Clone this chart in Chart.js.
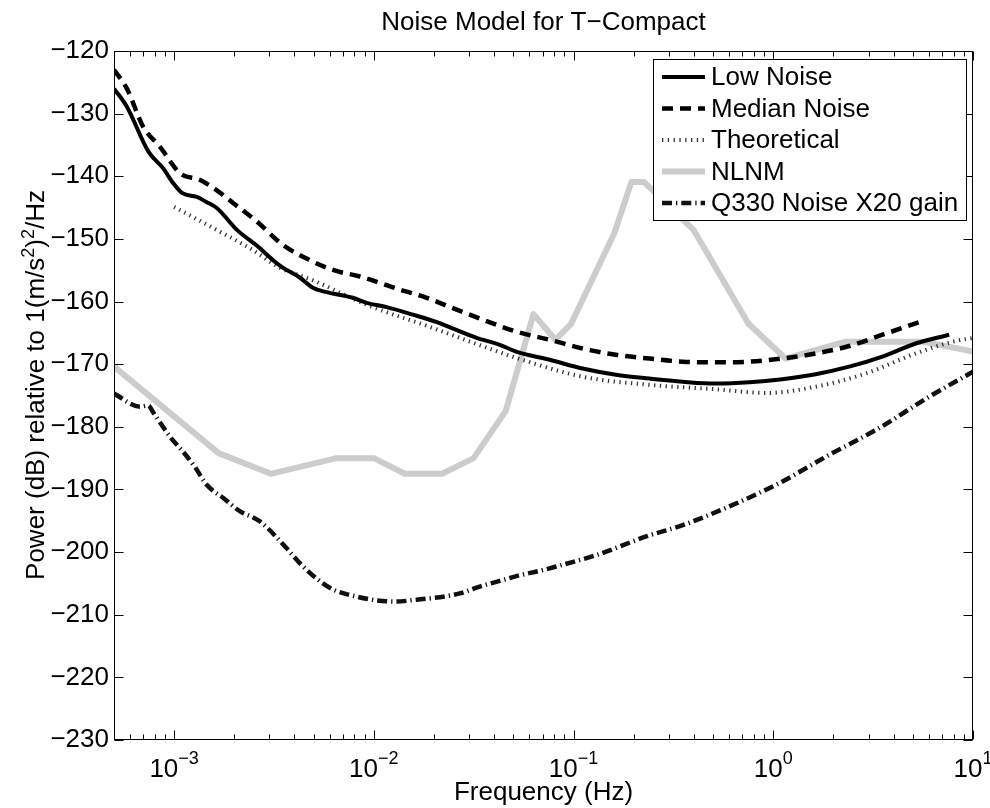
<!DOCTYPE html>
<html lang="en">
<head>
    <meta charset="UTF-8">
    <title>Noise Model for T-Compact</title>
    <style>
        body {
            margin: 0;
            background-color: #fff;
        }
        .chart-container {
            width: 990px;
            height: 808px;
        }
    </style>
</head>
<body>
    <div class="chart-container">
        <canvas id="noise-chart" width="990" height="808"></canvas>
    </div>

    <script src="https://cdn.jsdelivr.net/npm/chart.js"></script>

    <script>
        const FONT = '"Liberation Sans", Arial, Helvetica, sans-serif';

        // frequency in Hz, power in dB
        const lowFreq = [5.0e-4, 5.8e-4, 7.45e-4, 8.8e-4, 9.9e-4, 1.1e-3, 1.3e-3, 1.45e-3, 1.64e-3, 2.07e-3,
            2.6e-3, 3.13e-3, 3.47e-3, 4.27e-3, 4.95e-3, 5.8e-3, 7.85e-3, 9.2e-3, 1.16e-2, 1.57e-2,
            2.07e-2, 2.48e-2, 3.27e-2, 4.27e-2, 5.16e-2, 7.6e-2, 0.111, 0.163, 0.24, 0.352,
            0.516, 0.76, 1.11, 1.63, 2.4, 3.52, 5.16, 7.6];
        const lowPower = [-126.0, -128.9, -136.1, -138.7, -141.1, -142.7, -143.3, -144.1, -145.1, -148.6,
            -151.1, -153.4, -154.5, -156.2, -157.8, -158.5, -159.4, -160.2, -160.9, -162.1,
            -163.3, -164.3, -165.8, -166.9, -168.0, -169.3, -170.7, -171.7, -172.3, -172.8,
            -173.1, -172.9, -172.4, -171.6, -170.4, -168.8, -166.7, -165.3];

        const medianFreq = [5.0e-4, 5.8e-4, 7.0e-4, 8.5e-4, 1.07e-3, 1.35e-3, 1.63e-3, 1.98e-3, 2.59e-3, 3.52e-3,
            4.79e-3, 6.3e-3, 8.5e-3, 1.32e-2, 1.84e-2, 2.6e-2, 3.52e-2, 5.16e-2, 7.6e-2, 0.111,
            0.163, 0.24, 0.352, 0.516, 0.76, 1.11, 1.63, 2.4, 3.52, 5.47];
        const medianPower = [-123.0, -126.0, -132.1, -135.3, -139.5, -140.6, -142.2, -144.3, -147.2, -151.0,
            -153.4, -155.0, -156.0, -158.0, -159.4, -161.3, -162.9, -164.8, -166.1, -167.5,
            -168.5, -169.1, -169.6, -169.7, -169.6, -169.1, -168.3, -167.1, -165.3, -163.2];

        const theoFreq = [1.0e-3, 1.64e-3, 2.4e-3, 3.39e-3, 4.95e-3, 9.2e-3, 1.97e-2, 2.4e-2, 4.27e-2, 5.16e-2,
            0.111, 0.24, 0.516, 0.92, 1.63, 2.9, 5.16, 7.94, 10];
        const theoPower = [-144.9, -148.6, -151.5, -154.6, -156.6, -160.5, -164.2, -165.2, -168.1, -169.0,
            -172.0, -173.3, -174.0, -174.6, -173.6, -171.5, -168.3, -166.4, -165.8];

        const nlnmFreq = [5.0e-4, 1.67e-3, 3.05e-3, 6.5e-3, 1.0e-2, 1.43e-2, 2.2e-2, 3.16e-2, 4.57e-2, 6.3e-2,
            8.1e-2, 9.7e-2, 0.16, 0.195, 0.225, 0.4, 0.75, 1.15, 2.3, 5.6, 10];
        const nlnmPower = [-170.4, -184.2, -187.5, -185.0, -185.0, -187.5, -187.5, -185.0, -177.5, -162.0,
            -166.1, -163.6, -149.1, -140.9, -140.9, -148.6, -163.5, -169.1, -166.4, -166.4, -168.0];

        const q330Freq = [5.0e-4, 6.76e-4, 7.4e-4, 7.9e-4, 9.55e-4, 1.11e-3, 1.27e-3, 1.46e-3, 1.77e-3, 2.14e-3,
            2.69e-3, 3.66e-3, 4.27e-3, 5.16e-3, 6.27e-3, 8.2e-3, 1.03e-2, 1.3e-2, 1.63e-2, 2.14e-2,
            2.69e-2, 3.39e-2, 4.27e-2, 5.37e-2, 6.76e-2, 8.2e-2, 0.135, 0.231, 0.352, 0.603,
            1.07, 1.9, 3.39, 6.03, 10];
        const q330Power = [-174.7, -176.8, -176.6, -177.8, -181.6, -184.0, -186.4, -189.3, -191.4, -193.5,
            -195.1, -199.4, -201.8, -204.2, -206.0, -207.1, -207.7, -207.9, -207.6, -207.2,
            -206.6, -205.5, -204.6, -203.7, -203.0, -202.3, -200.3, -197.5, -195.7, -192.7,
            -189.0, -184.5, -180.2, -175.2, -171.2];

        const yTicks = [-120, -130, -140, -150, -160, -170, -180, -190, -200, -210, -220, -230];
        const xTickExponents = [-3, -2, -1, 0, 1];

        function toPoints(xs, ys) {
            return xs.map((x, i) => ({ x: x, y: ys[i] }));
        }

        function minusSign(n) {
            return n < 0 ? '\u2212' + Math.abs(n) : String(n);
        }

        // axes box, inward ticks, tick labels, titles and legend drawn MATLAB-style
        const matlabAxes = {
            id: 'matlabAxes',
            afterDatasetsDraw(chart) {
                const { ctx, chartArea: a, scales: { x, y } } = chart;
                ctx.save();
                ctx.strokeStyle = '#000';
                ctx.lineWidth = 1;
                ctx.setLineDash([]);

                const L = Math.round(a.left) + 0.5, R = Math.round(a.right) - 0.5;
                const T = Math.round(a.top) + 0.5, B = Math.round(a.bottom) - 0.5;
                ctx.strokeRect(L, T, R - L, B - T);

                ctx.beginPath();
                yTicks.forEach(v => {
                    const py = Math.round(y.getPixelForValue(v)) + 0.5;
                    ctx.moveTo(L, py); ctx.lineTo(L + 9, py);
                    ctx.moveTo(R, py); ctx.lineTo(R - 9, py);
                });
                for (let e = -4; e <= 1; e++) {
                    for (let k = 1; k <= 9; k++) {
                        const f = k * Math.pow(10, e);
                        if (f < x.min * 0.999 || f > x.max * 1.001) continue;
                        const px = Math.round(x.getPixelForValue(f)) + 0.5;
                        const len = k === 1 ? 9 : 5;
                        ctx.moveTo(px, B); ctx.lineTo(px, B - len);
                        ctx.moveTo(px, T); ctx.lineTo(px, T + len);
                    }
                }
                ctx.stroke();

                ctx.fillStyle = '#000';
                ctx.textBaseline = 'alphabetic';
                ctx.textAlign = 'left';
                xTickExponents.forEach(e => {
                    const px = x.getPixelForValue(Math.pow(10, e));
                    ctx.font = '26px ' + FONT;
                    const wBase = ctx.measureText('10').width;
                    ctx.font = '18px ' + FONT;
                    const sup = minusSign(e);
                    const wSup = ctx.measureText(sup).width;
                    const x0 = px - (wBase + wSup) / 2;
                    ctx.font = '26px ' + FONT;
                    ctx.fillText('10', x0, 777);
                    ctx.font = '18px ' + FONT;
                    ctx.fillText(sup, x0 + wBase, 764);
                });

                // titles
                ctx.font = '26px ' + FONT;
                ctx.textAlign = 'center';
                const cx = (a.left + a.right) / 2;
                ctx.fillText('Noise Model for T\u2212Compact', cx, 30);
                ctx.fillText('Frequency (Hz)', cx, 800);

                // rotated y label with superscripts
                const parts = [
                    ['Power (dB) relative to 1(m/s', 26, 0],
                    ['2', 18, -10],
                    [')', 26, 0],
                    ['2', 18, -10],
                    ['/Hz', 26, 0]
                ];
                ctx.save();
                ctx.translate(44, 385);
                ctx.rotate(-Math.PI / 2);
                ctx.textAlign = 'left';
                let total = 0;
                parts.forEach(p => { ctx.font = p[1] + 'px ' + FONT; total += ctx.measureText(p[0]).width; });
                let cur = -total / 2;
                parts.forEach(p => {
                    ctx.font = p[1] + 'px ' + FONT;
                    ctx.fillText(p[0], cur, p[2]);
                    cur += ctx.measureText(p[0]).width;
                });
                ctx.restore();

                // legend
                const lx = 653.5, ly = 59.5, lw = 313, lh = 161;
                ctx.fillStyle = '#fff';
                ctx.fillRect(lx, ly, lw, lh);
                ctx.strokeStyle = '#000';
                ctx.lineWidth = 1;
                ctx.strokeRect(lx, ly, lw, lh);
                ctx.font = '26px ' + FONT;
                ctx.textAlign = 'left';
                ctx.textBaseline = 'middle';
                chart.data.datasets.forEach((ds, i) => {
                    const rowY = 77 + i * 31.5;
                    ctx.save();
                    ctx.strokeStyle = ds.borderColor;
                    ctx.lineWidth = ds.borderWidth;
                    ctx.setLineDash(ds.borderDash || []);
                    ctx.beginPath();
                    ctx.moveTo(662, rowY);
                    ctx.lineTo(705, rowY);
                    ctx.stroke();
                    ctx.restore();
                    ctx.fillStyle = '#000';
                    ctx.fillText(ds.label, 711, rowY + 1);
                });
                ctx.restore();
            }
        };

        const ctx = document.getElementById('noise-chart').getContext('2d');
        const chart = new Chart(ctx, {
            type: 'line',
            data: {
                datasets: [
                    {
                        label: 'Low Noise',
                        data: toPoints(lowFreq, lowPower),
                        borderColor: '#000',
                        borderWidth: 4,
                        borderDash: [],
                        cubicInterpolationMode: 'monotone'
                    },
                    {
                        label: 'Median Noise',
                        data: toPoints(medianFreq, medianPower),
                        borderColor: '#000',
                        borderWidth: 4.5,
                        borderDash: [11, 7],
                        cubicInterpolationMode: 'monotone'
                    },
                    {
                        label: 'Theoretical',
                        data: toPoints(theoFreq, theoPower),
                        borderColor: '#333',
                        borderWidth: 4,
                        borderDash: [1.3, 4.5],
                        cubicInterpolationMode: 'monotone'
                    },
                    {
                        label: 'NLNM',
                        data: toPoints(nlnmFreq, nlnmPower),
                        borderColor: '#cccccc',
                        borderWidth: 6,
                        borderDash: [],
                        tension: 0
                    },
                    {
                        label: 'Q330 Noise X20 gain',
                        data: toPoints(q330Freq, q330Power),
                        borderColor: '#111',
                        borderWidth: 4.5,
                        borderDash: [10, 4, 1.3, 4],
                        cubicInterpolationMode: 'monotone'
                    }
                ]
            },
            options: {
                responsive: false,
                animation: false,
                devicePixelRatio: 1,
                clip: 0,
                elements: {
                    point: { radius: 0 },
                    line: { borderCapStyle: 'butt', borderJoinStyle: 'round' }
                },
                layout: {
                    padding: { top: 51, right: 17, bottom: 0, left: 0 }
                },
                scales: {
                    x: {
                        type: 'logarithmic',
                        min: 5e-4,
                        max: 10,
                        grid: { display: false, drawTicks: false },
                        border: { display: false },
                        ticks: { display: false },
                        afterFit(scale) { scale.height = 68; }
                    },
                    y: {
                        type: 'linear',
                        min: -230,
                        max: -120,
                        afterBuildTicks(scale) {
                            scale.ticks = yTicks.map(v => ({ value: v }));
                        },
                        grid: { display: false, drawTicks: false },
                        border: { display: false },
                        ticks: {
                            color: '#000',
                            padding: 5,
                            font: { family: FONT, size: 26 },
                            callback: v => minusSign(v)
                        },
                        afterFit(scale) { scale.width = 114; }
                    }
                },
                plugins: {
                    legend: { display: false },
                    title: { display: false },
                    tooltip: { enabled: false }
                }
            },
            plugins: [matlabAxes]
        });
    </script>
</body>
</html>
